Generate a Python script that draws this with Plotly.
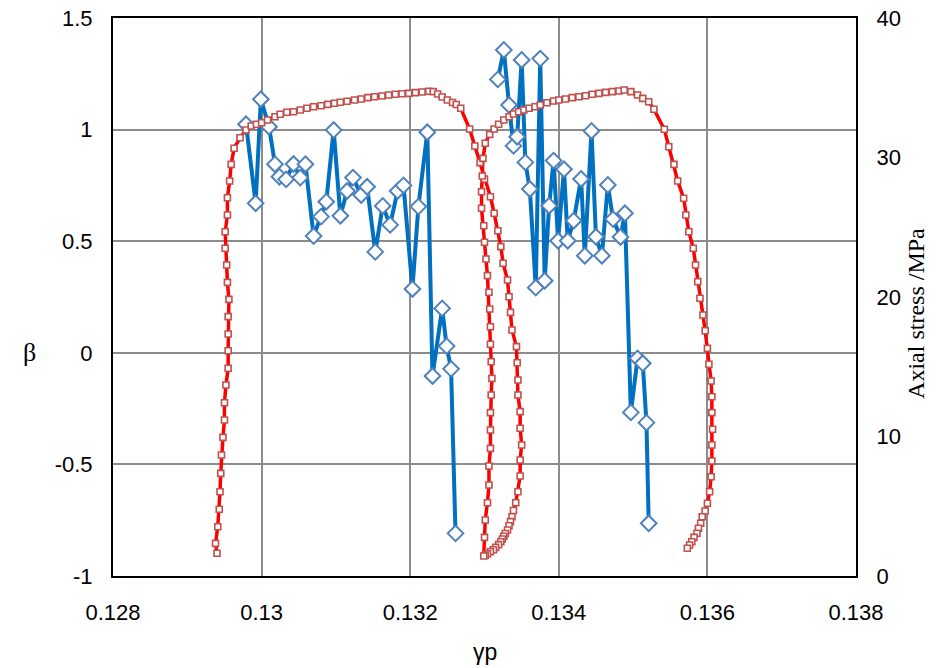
import plotly.graph_objects as go

# ---- data ----
beta_x1 = [0.12979, 0.12992, 0.12999, 0.13010, 0.13018, 0.13024, 0.13033, 0.13043, 0.13052, 0.13059,
           0.13070, 0.13080, 0.13087, 0.13097, 0.13106, 0.13115, 0.13123, 0.13134, 0.13142, 0.13153,
           0.13163, 0.13173, 0.13183, 0.13191, 0.13203, 0.13211, 0.13223, 0.13230, 0.13243, 0.13249,
           0.13255, 0.13261]
beta_y1 = [1.024, 0.670, 1.136, 1.013, 0.845, 0.789, 0.777, 0.846, 0.785, 0.845,
           0.523, 0.610, 0.677, 0.998, 0.614, 0.725, 0.785, 0.707, 0.744, 0.452,
           0.658, 0.573, 0.725, 0.750, 0.286, 0.655, 0.988, -0.104, 0.199, 0.030,
           -0.072, -0.809]

beta_x2 = [0.13318, 0.13326, 0.13333, 0.13339, 0.13344, 0.13350, 0.13355, 0.13361, 0.13369, 0.13375,
           0.13381, 0.13387, 0.13393, 0.13399, 0.13407, 0.13412, 0.13420, 0.13430, 0.13435, 0.13444,
           0.13450, 0.13458, 0.13466, 0.13473, 0.13483, 0.13489, 0.13497, 0.13506, 0.13513, 0.13518,
           0.13521]
beta_y2 = [1.225, 1.357, 1.110, 0.927, 0.968, 1.312, 0.853, 0.734, 0.292, 1.318,
           0.323, 0.659, 0.861, 0.502, 0.822, 0.502, 0.592, 0.779, 0.435, 0.994,
           0.520, 0.435, 0.752, 0.599, 0.519, 0.625, -0.267, -0.025, -0.047, -0.313,
           -0.764]

stress_x = [
    0.12940, 0.12938, 0.12941, 0.12943, 0.12944, 0.12945, 0.12946, 0.12948, 0.12950, 0.12950,
    0.12952, 0.12955, 0.12955, 0.12955, 0.12955, 0.12956, 0.12954, 0.12953, 0.12951, 0.12951,
    0.12954, 0.12954, 0.12957, 0.12959, 0.12963, 0.12971, 0.12979, 0.12986, 0.12993, 0.13000,
    0.13008, 0.13018, 0.13025, 0.13034, 0.13043, 0.13052, 0.13061, 0.13070, 0.13080, 0.13089,
    0.13098, 0.13106, 0.13115, 0.13125, 0.13134, 0.13143, 0.13152, 0.13162, 0.13171, 0.13180,
    0.13189, 0.13198, 0.13207, 0.13216, 0.13225, 0.13231, 0.13237, 0.13243, 0.13250, 0.13257,
    0.13262, 0.13268, 0.13280, 0.13287, 0.13294, 0.13300, 0.13308, 0.13313, 0.13318, 0.13322,
    0.13325, 0.13331, 0.13333, 0.13335, 0.13337, 0.13343, 0.13344, 0.13345, 0.13345, 0.13348,
    0.13348, 0.13350, 0.13348, 0.13348, 0.13345, 0.13342, 0.13339, 0.13337, 0.13335, 0.13333,
    0.13331, 0.13328, 0.13326, 0.13324, 0.13322, 0.13319, 0.13315, 0.13312, 0.13308, 0.13304,
    0.13301, 0.13299,
    0.13300, 0.13301, 0.13304, 0.13306, 0.13306, 0.13308, 0.13308, 0.13308, 0.13309, 0.13310,
    0.13309, 0.13308, 0.13308, 0.13307, 0.13306, 0.13304, 0.13302, 0.13300, 0.13299, 0.13296,
    0.13296, 0.13297, 0.13298, 0.13301, 0.13307, 0.13313, 0.13319, 0.13326, 0.13333, 0.13339,
    0.13346, 0.13353, 0.13360, 0.13368, 0.13375, 0.13384, 0.13393, 0.13400, 0.13409, 0.13418,
    0.13427, 0.13436, 0.13445, 0.13454, 0.13463, 0.13472, 0.13481, 0.13488, 0.13497, 0.13506,
    0.13513, 0.13521, 0.13528, 0.13542, 0.13548, 0.13555, 0.13560, 0.13568, 0.13571, 0.13575,
    0.13581, 0.13584, 0.13587, 0.13590, 0.13594, 0.13597, 0.13600, 0.13602, 0.13605, 0.13606,
    0.13606, 0.13607, 0.13606, 0.13606, 0.13605, 0.13603, 0.13600, 0.13597, 0.13593, 0.13591,
    0.13588, 0.13586, 0.13582, 0.13579, 0.13576, 0.13573]
stress_y = [
    1.63, 2.34, 3.53, 4.78, 6.04, 7.36, 8.67, 9.94, 11.18, 12.42,
    13.69, 14.89, 16.15, 17.35, 18.59, 19.83, 21.05, 22.29, 23.49, 24.68,
    25.88, 27.12, 28.32, 29.51, 30.66, 31.42, 31.97, 32.26, 32.38, 32.49,
    32.69, 32.92, 33.10, 33.24, 33.28, 33.41, 33.53, 33.64, 33.71, 33.81,
    33.89, 33.96, 34.03, 34.12, 34.19, 34.29, 34.36, 34.41, 34.48, 34.53,
    34.57, 34.60, 34.65, 34.70, 34.75, 34.72, 34.55, 34.34, 34.12, 33.94,
    33.80, 33.53, 32.04, 30.82, 29.63, 28.46, 27.19, 26.00, 24.75, 23.61,
    22.42, 21.22, 20.02, 18.90, 17.63, 16.44, 15.29, 14.05, 12.97, 11.78,
    10.59, 9.39, 8.32, 7.17, 6.04, 5.25, 4.70, 4.25, 3.90, 3.60,
    3.30, 3.05, 2.85, 2.65, 2.45, 2.25, 2.05, 1.88, 1.75, 1.60,
    1.50, 1.43,
    2.77, 4.01, 5.25, 6.52, 7.89, 9.15, 10.47, 11.71, 12.97, 14.17,
    15.36, 16.61, 17.87, 19.14, 20.34, 21.53, 22.72, 23.92, 25.11, 26.36,
    27.55, 28.67, 29.94, 31.02, 31.66, 32.04, 32.38, 32.69, 32.92, 33.12,
    33.28, 33.41, 33.53, 33.64, 33.76, 33.93, 34.05, 34.12, 34.19, 34.29,
    34.36, 34.43, 34.53, 34.60, 34.67, 34.72, 34.77, 34.84, 34.72, 34.48,
    34.24, 34.00, 33.46, 32.02, 30.77, 29.51, 28.32, 27.08, 25.88, 24.68,
    23.49, 22.29, 21.10, 19.91, 18.71, 17.58, 16.32, 15.18, 13.98, 12.85,
    11.71, 10.52, 9.39, 8.24, 7.12, 6.04, 5.21, 4.66, 4.25, 3.78,
    3.42, 3.06, 2.77, 2.46, 2.22, 1.99]

x_ticks = [0.128, 0.130, 0.132, 0.134, 0.136, 0.138]
x_labels = ["0.128", "0.13", "0.132", "0.134", "0.136", "0.138"]
yl_ticks = [-1, -0.5, 0, 0.5, 1, 1.5]
yl_labels = ["-1", "-0.5", "0", "0.5", "1", "1.5"]
yr_ticks = [0, 10, 20, 30, 40]
yr_labels = ["0", "10", "20", "30", "40"]

sans = "Liberation Sans, Arial, sans-serif"
serif = "Liberation Serif, Times New Roman, serif"
tick_font = dict(family=sans, size=22, color="#000000")
grid_col = "#8c8c8c"

fig = go.Figure()

blue_line = dict(color="#0070C0", width=4)
blue_marker = dict(symbol="diamond", size=12, color="#FFFFFF",
                   line=dict(color="#4F81BD", width=2))

fig.add_trace(go.Scatter(x=beta_x1, y=beta_y1, mode="lines+markers", line=blue_line,
                         marker=blue_marker, showlegend=False, yaxis="y"))
fig.add_trace(go.Scatter(x=beta_x2, y=beta_y2, mode="lines+markers", line=blue_line,
                         marker=blue_marker, showlegend=False, yaxis="y"))
fig.add_trace(go.Scatter(x=stress_x, y=stress_y, mode="lines+markers",
                         line=dict(color="#FF0000", width=3.5),
                         marker=dict(symbol="square", size=6, color="#FFFFFF",
                                     line=dict(color="#C0504D", width=1.6)),
                         showlegend=False, yaxis="y2"))

fig.update_layout(
    width=944, height=668,
    margin=dict(l=113, r=88, t=18, b=92, autoexpand=False),
    paper_bgcolor="#FFFFFF", plot_bgcolor="#FFFFFF",
    xaxis=dict(range=[0.128, 0.138], tickvals=x_ticks, ticktext=x_labels,
               showgrid=True, gridcolor=grid_col, gridwidth=1.5,
               showline=True, linecolor="#000000", linewidth=2, mirror=True,
               ticks="", tickfont=tick_font, ticklabelstandoff=16, zeroline=False,
               automargin=False, ticklabeloverflow="allow"),
    yaxis=dict(range=[-1, 1.5], tickvals=yl_ticks, ticktext=yl_labels,
               showgrid=True, gridcolor=grid_col, gridwidth=1.5,
               showline=True, linecolor="#000000", linewidth=2, mirror=True,
               ticks="", tickfont=tick_font, ticklabelstandoff=14, zeroline=False,
               automargin=False, ticklabeloverflow="allow"),
    yaxis2=dict(range=[0, 40], tickvals=yr_ticks, ticktext=yr_labels, overlaying="y", side="right",
                showgrid=False, showline=True, linecolor="#000000", linewidth=2,
                ticks="", tickfont=tick_font, ticklabelstandoff=14, zeroline=False,
                automargin=False, ticklabeloverflow="allow"),
    annotations=[
        dict(text="β", xref="paper", yref="paper", x=-0.112, y=0.40,
             xanchor="center", yanchor="middle", showarrow=False,
             font=dict(family=serif, size=26, color="#000000")),
        dict(text="Axial stress /MPa", xref="paper", yref="paper", x=1.081, y=0.47,
             xanchor="center", yanchor="middle", showarrow=False, textangle=-90,
             font=dict(family=serif, size=24, color="#000000")),
        dict(text="γp", xref="paper", yref="paper", x=0.5, y=-0.136,
             xanchor="center", yanchor="middle", showarrow=False,
             font=dict(family=sans, size=23, color="#000000")),
    ],
)

fig.write_html("out.html", config={"displayModeBar": False},
               post_script="document.body.style.margin='0px';document.body.style.overflow='hidden';")
